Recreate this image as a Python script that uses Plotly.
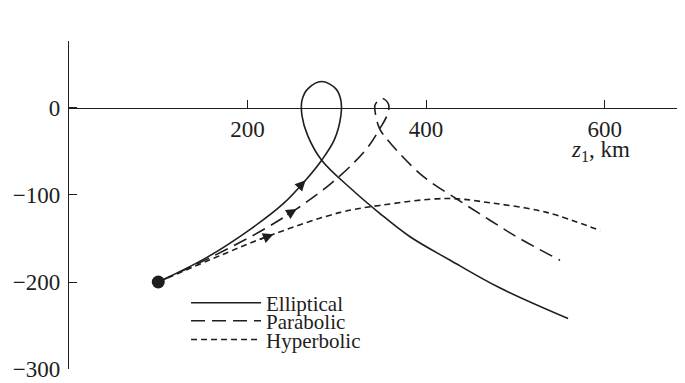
import plotly.graph_objects as go

# ---- data (z1, z2 in km) ----
ell_z1 = [100, 154, 205, 240, 265, 283, 297, 304.5, 304.5, 299, 283, 267.5, 261, 261, 267.5, 283, 315, 348, 382, 427, 483, 559]
ell_z2 = [-200, -172, -138, -110, -83, -60, -37, -9, 9, 22, 30.5, 22, 9, -9, -32, -60, -92, -121, -148, -175, -207, -242]

par_z1 = [100, 158, 214, 255, 292, 320, 337, 348, 356, 358, 350.5, 343, 343, 348, 360.5, 396, 438, 471.5, 503, 550]
par_z2 = [-200, -172, -142, -116, -88, -62, -42, -24, -9, 4, 11, 4, -5, -24, -41, -78, -107, -129, -149, -175]

hyp_z1 = [100, 173, 229, 304, 348, 423, 472, 535, 595]
hyp_z2 = [-200, -168, -145, -120, -112, -104, -109, -120, -141]

names = ["Elliptical", "Parabolic", "Hyperbolic"]
x_ticks = [200, 400, 600]
y_ticks = [-300, -200, -100, 0]
y_tick_text = ["\u2212300", "\u2212200", "\u2212100", "0"]

# arrow marker index on each curve
arrow_idx = [4, 3, 2]

X_RANGE = [0, 690]
Y_RANGE = [-300, 77]
INK = "#1e1e1e"
FONT = "Liberation Serif"
FS = 23

series = [(ell_z1, ell_z2, "solid"), (par_z1, par_z2, "14px,7px"), (hyp_z1, hyp_z2, "6px,4px")]

fig = go.Figure()
legends = ["legend", "legend2", "legend3"]
for (xs, ys, dash), nm, lg in zip(series, names, legends):
    fig.add_trace(go.Scatter(
        x=xs, y=ys, mode="lines", name=nm, legend=lg,
        line=dict(color=INK, width=1.6, dash=dash, shape="spline", smoothing=1.0),
    ))

# start point
fig.add_trace(go.Scatter(x=[ell_z1[0]], y=[ell_z2[0]], mode="markers",
                         marker=dict(color=INK, size=13), showlegend=False))

# arrow heads along the rising branches
for (xs, ys, _), i in zip(series, arrow_idx):
    tx, ty = xs[i], ys[i]
    px, py = xs[i - 1], ys[i - 1]
    k = 0.3
    fig.add_annotation(x=tx, y=ty, ax=tx + (px - tx) * k, ay=ty + (py - ty) * k,
                       xref="x", yref="y", axref="x", ayref="y", text="",
                       showarrow=True, arrowhead=2, arrowsize=1.5, arrowwidth=1.4,
                       arrowcolor=INK)

pos = (0 - Y_RANGE[0]) / (Y_RANGE[1] - Y_RANGE[0])

# page body has an 8px default margin: the figure is sized to fit the window
fig.update_layout(
    width=677, height=375,
    margin=dict(l=61, r=0, t=33, b=14, autoexpand=False),
    paper_bgcolor="white", plot_bgcolor="white",
    font=dict(family=FONT, size=FS, color=INK),
    xaxis=dict(range=X_RANGE, anchor="free", position=pos, showline=True,
               linecolor=INK, linewidth=1.3, ticks="inside", ticklen=8,
               tickwidth=1.2, tickcolor=INK, tickvals=x_ticks, automargin=False,
               ticktext=[str(v) for v in x_ticks], showgrid=False, zeroline=False,
               tickfont=dict(family=FONT, size=FS, color=INK)),
    yaxis=dict(range=Y_RANGE, showline=True, linecolor=INK, linewidth=1.3,
               ticks="inside", ticklen=8, tickwidth=1.2, tickcolor=INK,
               tickvals=y_ticks + [Y_RANGE[1] - 0.2], ticktext=y_tick_text + [""],
               showgrid=False, zeroline=False, ticklabelstandoff=3, automargin=False,
               tickfont=dict(family=FONT, size=FS, color=INK)),
)

leg_common = dict(bgcolor="rgba(0,0,0,0)", borderwidth=0, itemwidth=70,
                  font=dict(family=FONT, size=21, color=INK),
                  xanchor="left", yanchor="middle", x=0.19)
fig.update_layout(
    legend=dict(y=0.201, **leg_common),
    legend2=dict(y=0.146, **leg_common),
    legend3=dict(y=0.089, **leg_common),
)

fig.add_annotation(x=595, y=-50, xref="x", yref="y", showarrow=False,
                   text="<i>z</i><sub>1</sub>, km", font=dict(family=FONT, size=FS, color=INK))
fig.add_annotation(x=10, y=103, xref="x", yref="y", showarrow=False,
                   text="<i>z</i><sub>2</sub>, km", font=dict(family=FONT, size=FS, color=INK))

fig.write_html("out.html")
